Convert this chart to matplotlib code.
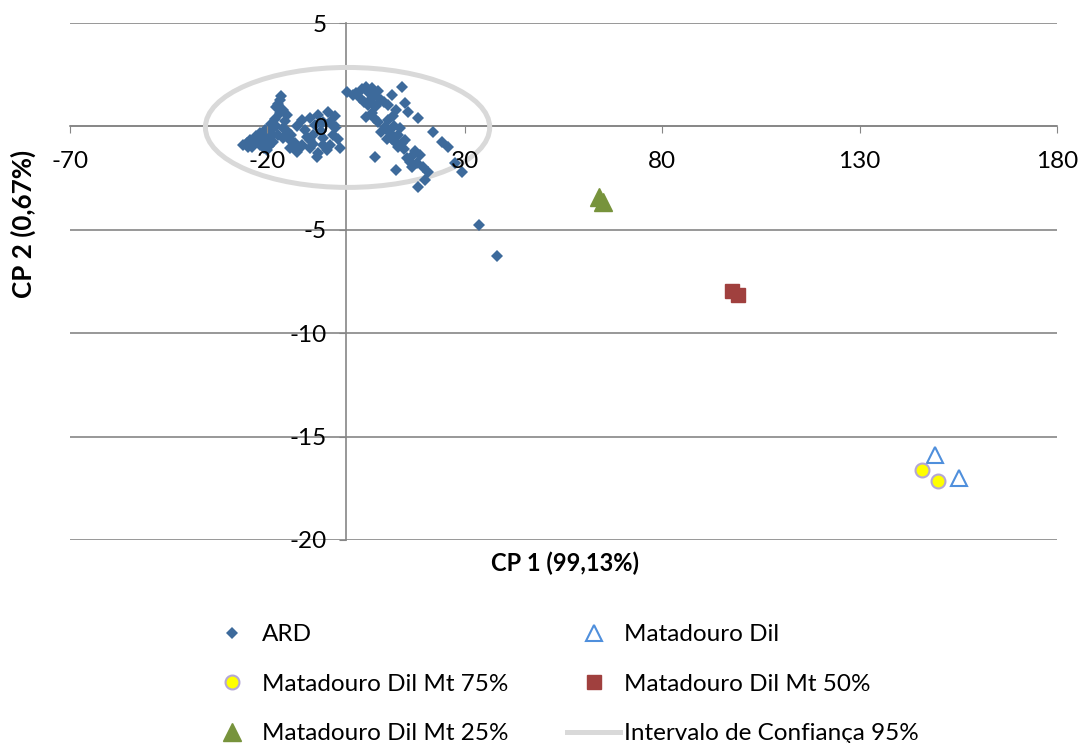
import matplotlib
matplotlib.use("Agg")
import matplotlib.pyplot as plt
from matplotlib import font_manager
from matplotlib.patches import Ellipse
from matplotlib.lines import Line2D

# pick a narrow font if present (reference text looks condensed)
names = {f.name for f in font_manager.fontManager.ttflist}
FONT = "Liberation Sans Narrow" if "Liberation Sans Narrow" in names else "Lato"
plt.rcParams["font.family"] = [FONT, "DejaVu Sans"]
plt.rcParams["axes.unicode_minus"] = False

# ARD samples (CP1, CP2)
ard_x = [
    -16.8, -17.7, -16.0, -15.1, -16.8, -17.2, -16.5,
    -26.1, -25.2, -24.4, -23.5, -22.7, -22.0, -21.0, -20.2, -19.4, -18.6, -17.7, -16.0,
    -21.0, -19.5, -18.5, -17.2, -16.0, -14.3, -12.6, -13.9, -15.0, -23.8, -20.0,
    -24.8, -23.0, -21.8, -20.5, -19.0, -18.0, -15.5, -14.5, -13.0, -20.8, -19.0,
    -11.3, -9.2, -7.1, -4.6, -4.2, -2.5, -3.3, -1.6, -5.9, -8.4, -10.5, -7.1, -9.2,
    -11.3, -4.2, -5.0, -8.0, -6.5, -12.5, -7.5, -11.7, -9.2, -3.3,
    -10.0, -6.0, -3.0, -2.0, -6.0, -8.5,
    0.1, 1.8, 3.4, 6.4, 7.2, 8.9, 10.6, 14.0, 14.8, 15.7, 18.2, 5.5, 6.4, 8.1, 9.8,
    8.9, 11.0, 13.1, 14.0, 12.3, 14.8, 5.1, 4.5, 7.5, 8.0, 5.8, 7.0, 10.5, 12.0,
    11.5, 13.5, 6.0,
    2.5, 4.0, 5.0, 6.8, 9.5, 11.5, 12.5, 10.2, 13.0, 14.5, 11.8,
    22.0, 24.1, 25.8, 27.5, 29.2, 7.2,
    15.3, 16.9, 18.6, 17.8, 19.5, 20.7, 19.9, 16.5, 12.7, 18.2, 16.1, 17.5,
    33.6, 38.2,
]
ard_y = [
    1.28, 0.95, 0.79, 0.55, 0.63, 1.10, 1.45,
    -0.90, -0.80, -0.66, -0.75, -0.58, -0.90, -0.42, -0.60, -0.26, -0.10, 0.00, -0.10,
    -0.82, -0.95, -0.74, -0.40, -0.58, -1.06, -1.22, -0.42, -0.20, -1.00, -1.15,
    -1.00, -0.45, -0.30, -0.15, 0.10, 0.35, 0.25, -0.60, -0.80, -1.05, -0.50,
    0.31, 0.39, 0.55, 0.71, 0.23, -0.01, -0.42, -1.06, -0.58, -0.42, -0.17, -1.30, -1.06,
    -0.90, -0.90, -1.14, 0.07, -0.20, 0.00, -1.46, -1.05, -0.66, 0.00,
    -0.50, 0.20, 0.50, -0.60, -0.90, -0.85,
    1.68, 1.52, 1.36, 1.84, 1.52, 1.28, 1.03, 1.92, 1.12, 0.71, 0.39, 1.03, 0.63, 0.23, -0.01,
    -0.26, -0.33, -0.42, -0.82, -0.74, -0.66, 0.47, 1.20, 1.00, 1.70, 1.60, 0.40, 0.30, 0.00,
    -0.60, -0.10, 1.30,
    1.60, 1.80, 1.90, 1.10, 1.20, 1.50, 0.80, -0.60, -1.00, -1.10, 0.50,
    -0.26, -0.74, -0.98, -1.79, -2.19, -1.46,
    -1.55, -1.38, -1.38, -1.79, -1.95, -2.19, -2.59, -1.95, -2.11, -2.92, -1.70, -1.20,
    -4.77, -6.27,
]

dil_x = [149.1, 155.2]
dil_y = [-15.9, -17.0]
mt75_x = [145.7, 149.8]
mt75_y = [-16.6, -17.15]
mt50_x = [97.8, 99.1]
mt50_y = [-7.95, -8.17]
mt25_x = [64.0, 64.9]
mt25_y = [-3.4, -3.64]

ellipse_center = (0.3, -0.05)
ellipse_width = 72.0
ellipse_height = 5.8

x_ticks = [-70, -20, 30, 80, 130, 180]
y_ticks = [-20, -15, -10, -5, 0, 5]

GRID = "#868686"
FS = 17.5
ARD_C = "#3d6a9b"

fig = plt.figure(figsize=(10.83, 7.43), dpi=100)
ax = fig.add_axes([70 / 1083, 1 - 540 / 743, 987 / 1083, 517 / 743])

ax.set_xlim(-70, 180)
ax.set_ylim(-20, 5)
ax.set_xticks(x_ticks)
ax.set_yticks(y_ticks)
ax.set_xticklabels([str(t) for t in x_ticks])
ax.set_yticklabels([str(t) for t in y_ticks])

for s in ["top", "right"]:
    ax.spines[s].set_visible(False)
ax.spines["left"].set_position(("data", 0))
ax.spines["bottom"].set_position(("data", 0))
for s in ["left", "bottom"]:
    ax.spines[s].set_color(GRID)
    ax.spines[s].set_linewidth(1.2)
    ax.spines[s].set_zorder(1)

# gridlines kept under the marks, tick labels drawn on top of them
for t in y_ticks:
    ax.axhline(t, color=GRID, lw=1.2, zorder=0.5)
ax.set_axisbelow(False)
ax.tick_params(axis="x", direction="out", length=5, color=GRID, labelsize=FS, pad=13)
ax.tick_params(axis="y", direction="out", length=5, color=GRID, labelsize=FS, pad=9)

ell = Ellipse(ellipse_center, ellipse_width, ellipse_height, fill=False,
              edgecolor="#d9d9d9", lw=3.6, zorder=2.0)
ax.add_patch(ell)

ax.plot(ard_x, ard_y, "D", ms=6.3, color=ARD_C, mew=0, ls="none", zorder=2.2)
ax.plot(dil_x, dil_y, "^", ms=12, mfc="none", mec="#4f8fdc", mew=1.5, ls="none", zorder=2.2)
ax.plot(mt75_x, mt75_y, "o", ms=10, mfc="#ffff00", mec="#b4a7d6", mew=1.5, ls="none", zorder=2.2)
ax.plot(mt50_x, mt50_y, "s", ms=9.5, color="#a0403e", ls="none", zorder=2.2)
ax.plot(mt25_x, mt25_y, "^", ms=13, color="#77933c", ls="none", zorder=2.2)

fig.text(565 / 1083, 1 - 563 / 743, "CP 1 (99,13%)", ha="center", va="center",
         fontsize=17, fontweight="bold")
fig.text(23 / 1083, 1 - 224 / 743, "CP 2 (0,67%)", ha="center", va="center",
         fontsize=18.7, fontweight="bold", rotation=90)

handles = [
    Line2D([], [], marker="D", ms=6, color=ARD_C, mew=0, ls="none"),
    Line2D([], [], marker="o", ms=10, mfc="#ffff00", mec="#b4a7d6", mew=1.5, ls="none"),
    Line2D([], [], marker="^", ms=13, color="#77933c", ls="none"),
    Line2D([], [], marker="^", ms=12, mfc="none", mec="#4f8fdc", mew=1.5, ls="none"),
    Line2D([], [], marker="s", ms=9.5, color="#a0403e", ls="none"),
    Line2D([], [], color="#d9d9d9", lw=3.6),
]
labels = ["ARD", "Matadouro Dil Mt 75%", "Matadouro Dil Mt 25%",
          "Matadouro Dil", "Matadouro Dil Mt 50%", "Intervalo de Confiança 95%"]
fig.legend(handles, labels, ncol=2, loc="upper left",
           bbox_to_anchor=(205 / 1083, 1 - 624 / 743), frameon=False,
           fontsize=FS, handlelength=2.2, handletextpad=0.15,
           columnspacing=2.4, labelspacing=1.18, borderpad=0, borderaxespad=0)

fig.savefig("out.png", dpi=100)
